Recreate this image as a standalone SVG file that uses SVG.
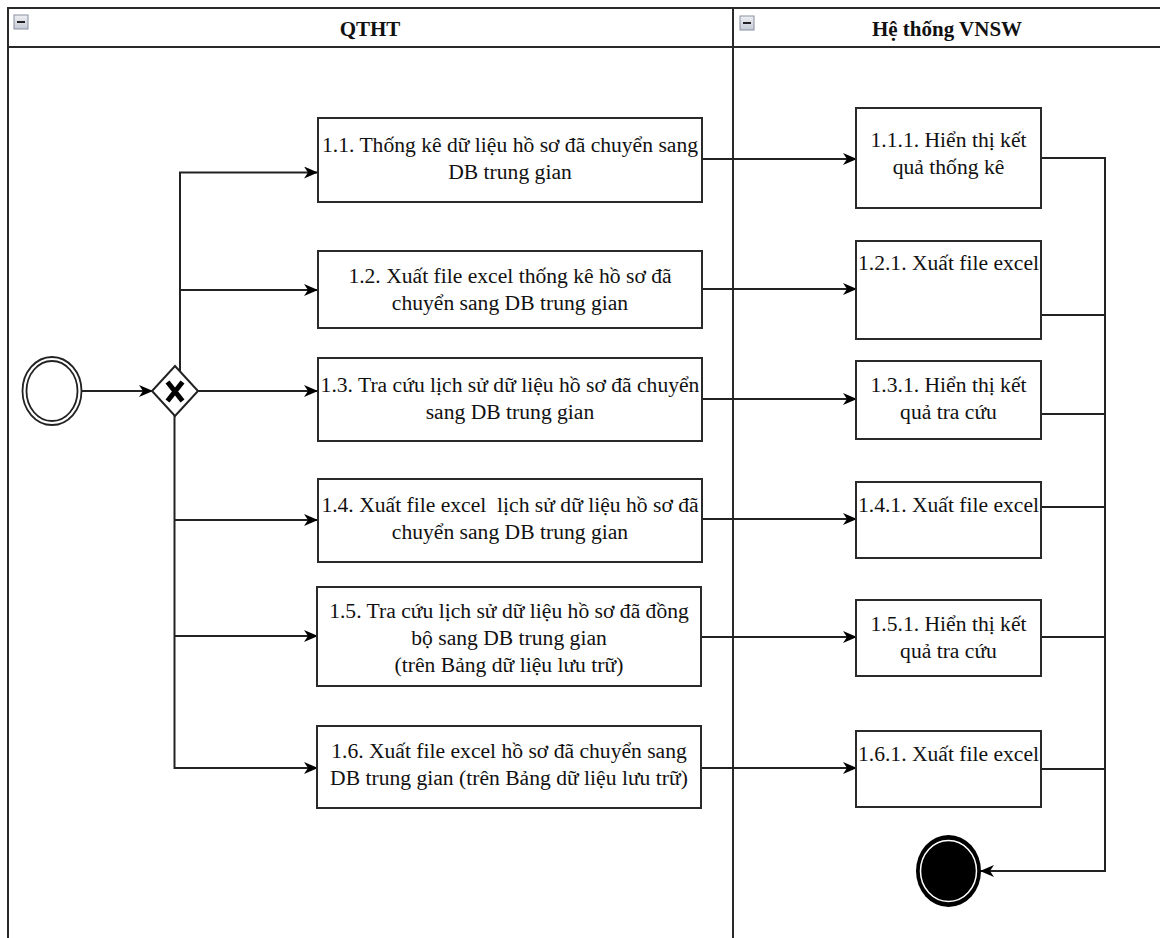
<svg xmlns="http://www.w3.org/2000/svg" width="1160" height="938" viewBox="0 0 1160 938">
<defs>
<style>
.frame{fill:none;stroke:#2a2a2a;stroke-width:2}
.box{fill:#ffffff;stroke:#2a2a2a;stroke-width:2}
.t{font-family:"Liberation Serif","Times New Roman",serif;font-size:21.6px;fill:#111;text-anchor:middle}
.h{font-family:"Liberation Serif","Times New Roman",serif;font-size:21px;font-weight:bold;fill:#111;text-anchor:middle}
.c{fill:none;stroke:#222;stroke-width:2}
.ico{fill:url(#ig);stroke:#8890a0;stroke-width:1}
</style>
<linearGradient id="ig" x1="0" y1="0" x2="0" y2="1">
<stop offset="0" stop-color="#eef0f4"/>
<stop offset="1" stop-color="#c4c9d4"/>
</linearGradient>
<marker id="arr" viewBox="0 0 14 12" refX="13" refY="6" markerWidth="14" markerHeight="12" markerUnits="userSpaceOnUse" orient="auto">
<path d="M0,0 L14,6 L0,12 L4,6 Z" fill="#000"/>
</marker>
</defs>
<rect width="1160" height="938" fill="#ffffff"/>
<g id="pool">
<rect class="frame" x="8" y="8" width="1160" height="950"/>
<line class="frame" x1="8" y1="47" x2="1160" y2="47"/>
<line class="frame" x1="733" y1="8" x2="733" y2="938"/>
<rect class="ico" x="14" y="15" width="14" height="14"/>
<line x1="17" y1="22" x2="25" y2="22" stroke="#222" stroke-width="2"/>
<rect class="ico" x="740" y="16" width="14" height="14"/>
<line x1="743" y1="23" x2="751" y2="23" stroke="#222" stroke-width="2"/>
<text class="h" x="370" y="35.5">QTHT</text>
<text class="h" x="947" y="35.5">Hệ thống VNSW</text>
</g>
<g id="connectors">
<path class="c" d="M82,391 H152" marker-end="url(#arr)"/>
<path class="c" d="M198,391 H317" marker-end="url(#arr)"/>
<path class="c" d="M180,371 V172.5 H317" marker-end="url(#arr)"/>
<path class="c" d="M180,290 H317" marker-end="url(#arr)"/>
<path class="c" d="M174.5,415 V768 H317" marker-end="url(#arr)"/>
<path class="c" d="M174.5,520 H317" marker-end="url(#arr)"/>
<path class="c" d="M174.5,636 H317" marker-end="url(#arr)"/>
<path class="c" d="M702,159 H856" marker-end="url(#arr)"/>
<path class="c" d="M702,289 H856" marker-end="url(#arr)"/>
<path class="c" d="M702,399 H856" marker-end="url(#arr)"/>
<path class="c" d="M702,519 H856" marker-end="url(#arr)"/>
<path class="c" d="M701,637 H856" marker-end="url(#arr)"/>
<path class="c" d="M701,768 H856" marker-end="url(#arr)"/>
<path class="c" d="M1041,158 H1105 V871 H981" marker-end="url(#arr)"/>
<path class="c" d="M1041,315 H1105"/>
<path class="c" d="M1041,414 H1105"/>
<path class="c" d="M1041,507 H1105"/>
<path class="c" d="M1041,637 H1105"/>
<path class="c" d="M1041,769 H1105"/>
</g>
<g id="start">
<ellipse cx="52" cy="391" rx="29.5" ry="34" fill="#fff" stroke="#222" stroke-width="1.8"/>
<ellipse cx="52" cy="391" rx="25.5" ry="30" fill="none" stroke="#222" stroke-width="1.8"/>
</g>
<g id="gateway">
<polygon points="175,366 198,391 175,416 152,391" fill="#fff" stroke="#222" stroke-width="2"/>
<path d="M167.5,382 L182.5,401 M182.5,382 L167.5,401" stroke="#000" stroke-width="5" stroke-linecap="butt"/>
</g>
<g id="end">
<ellipse cx="948.5" cy="871" rx="32.5" ry="36" fill="#000"/>
<ellipse cx="948.5" cy="871" rx="28" ry="30.5" fill="none" stroke="#fff" stroke-width="1.5"/>
</g>
<g id="n11">
<rect class="box" x="318" y="118" width="384" height="84"/>
<text class="t" x="510" y="152">1.1. Thống kê dữ liệu hồ sơ đã chuyển sang</text>
<text class="t" x="510" y="179">DB trung gian</text>
</g>
<g id="n12">
<rect class="box" x="318" y="251" width="384" height="77"/>
<text class="t" x="510" y="283">1.2. Xuất file excel thống kê hồ sơ đã</text>
<text class="t" x="510" y="310">chuyển sang DB trung gian</text>
</g>
<g id="n13">
<rect class="box" x="318" y="358" width="384" height="83"/>
<text class="t" x="510" y="392">1.3. Tra cứu lịch sử dữ liệu hồ sơ đã chuyển</text>
<text class="t" x="510" y="419">sang DB trung gian</text>
</g>
<g id="n14">
<rect class="box" x="318" y="479" width="384" height="83"/>
<text class="t" x="510" y="512" xml:space="preserve" style="white-space:pre">1.4. Xuất file excel  lịch sử dữ liệu hồ sơ đã</text>
<text class="t" x="510" y="539">chuyển sang DB trung gian</text>
</g>
<g id="n15">
<rect class="box" x="317" y="587" width="384" height="99"/>
<text class="t" x="509" y="618">1.5. Tra cứu lịch sử dữ liệu hồ sơ đã đồng</text>
<text class="t" x="509" y="645">bộ sang DB trung gian</text>
<text class="t" x="509" y="672">(trên Bảng dữ liệu lưu trữ)</text>
</g>
<g id="n16">
<rect class="box" x="317" y="726" width="384" height="82"/>
<text class="t" x="509" y="758">1.6. Xuất file excel hồ sơ đã chuyển sang</text>
<text class="t" x="509" y="785">DB trung gian (trên Bảng dữ liệu lưu trữ)</text>
</g>
<g id="n111">
<rect class="box" x="856" y="108" width="185" height="100"/>
<text class="t" x="948.5" y="147">1.1.1. Hiển thị kết</text>
<text class="t" x="948.5" y="174">quả thống kê</text>
</g>
<g id="n121">
<rect class="box" x="856" y="241" width="185" height="98"/>
<text class="t" x="948.5" y="270">1.2.1. Xuất file excel</text>
</g>
<g id="n131">
<rect class="box" x="856" y="361" width="185" height="78"/>
<text class="t" x="948.5" y="392">1.3.1. Hiển thị kết</text>
<text class="t" x="948.5" y="419">quả tra cứu</text>
</g>
<g id="n141">
<rect class="box" x="856" y="482" width="185" height="76"/>
<text class="t" x="948.5" y="512">1.4.1. Xuất file excel</text>
</g>
<g id="n151">
<rect class="box" x="856" y="600" width="185" height="76"/>
<text class="t" x="948.5" y="631">1.5.1. Hiển thị kết</text>
<text class="t" x="948.5" y="658">quả tra cứu</text>
</g>
<g id="n161">
<rect class="box" x="856" y="731" width="185" height="76"/>
<text class="t" x="948.5" y="761">1.6.1. Xuất file excel</text>
</g>
</svg>
